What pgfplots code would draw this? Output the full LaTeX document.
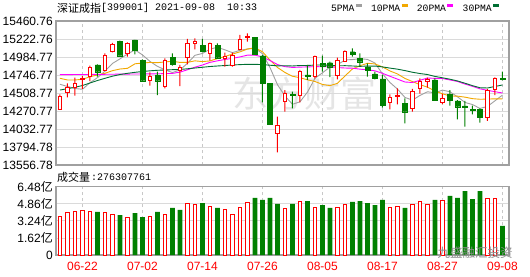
\documentclass[border=0pt]{standalone}
\usepackage{pgfplots}
\pgfplotsset{compat=1.18}
\usepackage{pgfplotstable}
\usepackage{fontspec}
\setmainfont{Liberation Sans}
\newfontfamily\cjk{Noto Sans CJK SC}
\newfontfamily\mono{Liberation Mono}
\definecolor{kred}{RGB}{255,0,0}
\definecolor{kgreen}{RGB}{0,128,0}
\definecolor{maA}{RGB}{160,160,160}
\definecolor{maB}{RGB}{242,168,0}
\definecolor{maC}{RGB}{255,0,255}
\definecolor{maD}{RGB}{0,110,50}
\definecolor{framec}{RGB}{160,160,160}
\definecolor{hgrid}{RGB}{218,218,218}
\definecolor{vgrid}{RGB}{200,200,200}

% red (rising) candles: x open high low close
\pgfplotstableread{
x o h l c
0 14293 14491 14293 14460
1 14518 14637 14452 14579
2 14579 14712 14474 14637
3 14685 14734 14562 14703
4 14725 14870 14667 14848
6 14813 15033 14800 15007
7 15055 15170 15047 15152
9 15033 15179 14989 15166
12 14676 14782 14606 14725
14 14597 14967 14571 14936
16 14813 14879 14601 14848
17 14980 15223 14888 15166
18 15166 15232 15086 15196
20 15033 15174 14936 15166
22 14967 15042 14857 14994
23 14879 15042 14857 15011
24 15086 15276 15077 15218
25 15249 15298 15188 15258
29 13976 14196 13724 14086
30 14394 14548 14262 14504
32 14474 14813 14385 14800
34 14725 15002 14703 14994
37 14747 14976 14690 14945
38 14932 15073 14923 15064
44 14385 14491 14293 14452
45 14469 14571 14359 14482
47 14306 14562 14262 14526
48 14571 14703 14500 14663
49 14663 14712 14579 14690
51 14381 14496 14363 14438
57 14183 14562 14139 14544
58 14562 14716 14482 14703
}\redc

% green (falling) candles
\pgfplotstableread{
x o h l c
5 14879 14888 14725 14791
8 15196 15200 15002 15002
10 15210 15212 15020 15069
11 14945 14954 14659 14672
13 14747 14791 14482 14672
15 14980 15033 14870 14888
19 15143 15223 15047 15064
21 15143 15166 14967 14976
26 15245 15248 15011 15020
27 14998 15011 14385 14637
28 14637 14640 14095 14095
31 14487 14526 14306 14478
33 14747 14879 14681 14738
35 14901 15002 14791 14870
36 14910 14923 14720 14857
39 15055 15099 14989 15020
40 14967 15033 14857 14923
41 14844 14901 14725 14813
42 14760 14791 14690 14703
43 14694 14747 14315 14350
46 14372 14438 14108 14262
50 14681 14703 14403 14416
52 14491 14548 14341 14416
53 14403 14416 14161 14328
54 14337 14403 14064 14319
55 14293 14341 14227 14280
56 14297 14306 14117 14183
59 14707 14791 14676 14694
}\greenc

% moving averages: 5, 10, 20, 30
\pgfplotstableread{
x a b c d
0 14624 14703 14752 14548
1 14595 14681 14752 14566
2 14568 14681 14753 14584
3 14558 14690 14753 14608
4 14645 14724 14754 14641
5 14712 14747 14755 14674
6 14797 14769 14756 14703
7 14900 14804 14757 14731
8 14960 14826 14758 14753
9 15024 14835 14759 14769
10 15079 14895 14760 14782
11 15012 14905 14761 14793
12 14927 14913 14762 14802
13 14861 14910 14763 14809
14 14815 14919 14765 14813
15 14779 14929 14768 14817
16 14814 14913 14785 14820
17 14902 14914 14816 14829
18 15007 14934 14850 14839
19 15032 14924 14879 14849
20 15088 14933 14914 14859
21 15114 14964 14934 14866
22 15079 14991 14952 14872
23 15042 15024 14967 14879
24 15073 15053 14986 14884
25 15091 15090 15009 14888
26 15100 15107 15010 14888
27 15029 15054 14984 14884
28 14846 14944 14939 14876
29 14619 14846 14885 14868
30 14468 14780 14857 14869
31 14360 14730 14847 14866
32 14392 14711 14851 14872
33 14521 14683 14854 14873
34 14703 14661 14857 14878
35 14776 14622 14856 14880
36 14852 14606 14856 14875
37 14881 14637 14845 14868
38 14946 14734 14839 14870
39 14951 14827 14837 14866
40 14962 14869 14824 14861
41 14953 14902 14816 14865
42 14905 14893 14802 14865
43 14762 14854 14769 14854
44 14648 14800 14730 14838
45 14560 14761 14692 14824
46 14450 14701 14654 14805
47 14414 14660 14648 14783
48 14477 14619 14677 14766
49 14525 14586 14707 14753
50 14511 14536 14702 14728
51 14547 14498 14700 14710
52 14525 14470 14681 14691
53 14458 14467 14661 14668
54 14384 14454 14627 14638
55 14356 14434 14597 14606
56 14305 14426 14564 14578
57 14331 14428 14544 14575
58 14406 14432 14526 14595
59 14481 14432 14509 14615
}\matab

% volume (yi): rising days / falling days
\pgfplotstableread{
x v
0 3.70
1 4.08
2 4.17
3 4.27
4 4.17
6 4.08
7 3.89
9 3.57
12 3.70
14 3.89
17 4.93
18 4.84
20 4.65
22 4.36
23 3.89
24 4.55
25 5.03
30 4.43
32 5.12
34 4.55
37 4.55
38 4.84
44 4.55
45 4.65
47 4.84
48 5.12
49 4.84
51 5.22
57 5.41
58 5.41
}\volred

\pgfplotstableread{
x v
5 4.08
8 3.79
10 3.98
11 3.60
13 4.08
15 4.46
16 4.27
19 4.93
21 4.46
26 5.41
27 5.22
28 5.41
29 4.84
31 4.84
33 5.12
35 4.74
36 4.46
39 5.03
40 5.12
41 4.93
42 4.74
43 5.22
46 4.46
50 5.22
52 5.60
53 5.41
54 6.07
55 5.31
56 6.07
59 2.76
}\volgreen

\pgfplotsset{
  kbase/.style={anchor=north west, width=453pt, scale only axis,
    xmin=-0.53, xmax=59.87, enlargelimits=false,
    scaled x ticks=false, scaled y ticks=false},
  kprice/.style={kbase, at={(56pt,255pt)}, height=144pt,
    ymin=13556.78, ymax=15460.76},
  kover/.style={kprice, hide axis, ticks=none, ybar stacked},
  kgrid/.style={
    xtick={3,11,19,27,35,43,51,59},
    xmajorgrids, ymajorgrids,
    x grid style={vgrid, dash pattern=on 3pt off 3pt, line width=0.8pt},
    y grid style={hgrid, line width=0.8pt},
    axis line style={framec, line width=1.2pt},
    major tick length=0pt,
    yticklabel style={font=\fontsize{12pt}{14pt}\selectfont, anchor=east, inner sep=0pt, xshift=-3pt},
  },
}

\begin{document}
\begin{tikzpicture}
\useasboundingbox (0,0) rectangle (530pt,276pt);
\node[text=black!10, font=\cjk\fontsize{36pt}{36pt}\selectfont, inner sep=0pt] at (304pt,182pt) {东方财富};

% price panel: grid and moving averages
\begin{axis}[kprice, kgrid,
  ytick={13556.78,13794.78,14032.77,14270.77,14508.77,14746.77,14984.77,15222.76,15460.76},
  yticklabels={13556.78,13794.78,14032.77,14270.77,14508.77,14746.77,14984.77,15222.76,15460.76},
  xticklabel=\empty,
  legend columns=-1,
  legend plot pos=right,
  legend image code/.code={\draw[#1, line width=3pt] (2.3pt,3pt) -- (8.3pt,3pt);},
  legend style={draw=none, fill=none, at={(rel axis cs:1,1)}, anchor=east,
    xshift=-8pt, yshift=12pt, inner sep=0pt,
    font=\mono\fontsize{9.7pt}{12pt}\selectfont,
    nodes={inner xsep=0pt, inner ysep=1pt},
    /tikz/every even column/.append style={column sep=7.7pt}},
]
\addplot[maA, line width=0.9pt] table[x=x, y=a] {\matab}; \addlegendentry{5PMA}
\addplot[maB, line width=0.9pt] table[x=x, y=b] {\matab}; \addlegendentry{10PMA}
\addplot[maC, line width=0.9pt] table[x=x, y=c] {\matab}; \addlegendentry{20PMA}
\addplot[maD, line width=0.9pt] table[x=x, y=d] {\matab}; \addlegendentry{30PMA}
\end{axis}

% wicks (red)
\begin{axis}[kover, bar width=1pt]
\addplot[draw=none, fill=none] table[x=x, y=l] {\redc};
\addplot[draw=none, fill=kred] table[x=x, y expr={\thisrow{h}-\thisrow{l}}] {\redc};
\end{axis}
% wicks (green)
\begin{axis}[kover, bar width=1pt]
\addplot[draw=none, fill=none] table[x=x, y=l] {\greenc};
\addplot[draw=none, fill=kgreen] table[x=x, y expr={\thisrow{h}-\thisrow{l}}] {\greenc};
\end{axis}

% red candle bodies (hollow)
\begin{axis}[kover, bar width=3.9pt]
\addplot[draw=none, fill=none] table[x=x, y=o] {\redc};
\addplot[draw=kred, fill=white, line width=0.9pt] table[x=x, y expr={\thisrow{c}-\thisrow{o}}] {\redc};
\end{axis}

% green candle bodies (filled)
\begin{axis}[kover, bar width=4.9pt]
\addplot[draw=none, fill=none] table[x=x, y=c] {\greenc};
\addplot[draw=kgreen, fill=kgreen, line width=0.3pt] table[x=x, y expr={\thisrow{o}-\thisrow{c}}] {\greenc};
\end{axis}

% volume panel
\begin{axis}[kbase, kgrid, at={(56pt,89.3pt)}, height=68.3pt,
  ymin=0, ymax=6.48,
  ytick={0,1.62,3.24,4.86,6.48},
  yticklabels={0,1.62{\cjk 亿},3.24{\cjk 亿},4.86{\cjk 亿},6.48{\cjk 亿}},
  xticklabels={06-22,07-02,07-14,07-26,08-05,08-17,08-27,09-08},
  xticklabel style={text=kred, font=\fontsize{12pt}{14pt}\selectfont, anchor=base, inner sep=0pt, yshift=-15pt},
  ybar, bar shift=0pt]
\addplot[draw=kred, fill=white, line width=0.9pt, bar width=3.9pt] table[x=x, y=v] {\volred};
\addplot[draw=none, fill=kgreen, bar width=4.8pt] table[x=x, y=v] {\volgreen};
\end{axis}

\node[anchor=west, inner sep=0pt, font=\cjk\fontsize{11pt}{13pt}\selectfont] at (57pt,268pt) {深证成指};
\node[anchor=west, inner sep=0pt, font=\mono\fontsize{10pt}{12pt}\selectfont] at (101pt,268pt) {[399001] 2021-09-08\ \ 10:33};
\node[anchor=west, inner sep=0pt, font=\cjk\fontsize{11pt}{13pt}\selectfont] at (57pt,99pt) {成交量};
\node[anchor=west, inner sep=0pt, font=\mono\fontsize{10pt}{12pt}\selectfont] at (91pt,99pt) {:276307761};
\node[text=black!45, font=\cjk\fontsize{12.5pt}{13pt}\selectfont, inner sep=0pt] at (475pt,23.5pt) {九盛融汇投资};
\end{tikzpicture}
\end{document}
